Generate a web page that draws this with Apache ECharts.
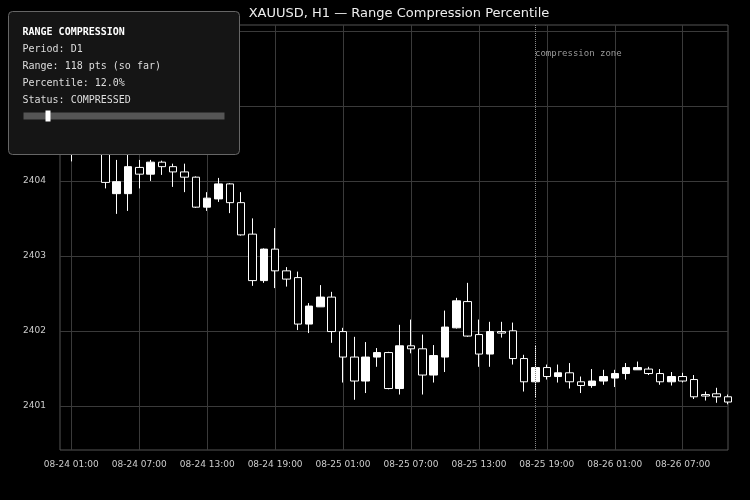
<!DOCTYPE html>
<html>
<head>
<meta charset="utf-8">
<script src="https://cdn.jsdelivr.net/npm/echarts@6/dist/echarts.min.js"></script>
<style>html,body{margin:0;padding:0;background:#000}</style>
</head>
<body>
<div id="main" style="width:750px;height:500px"></div>
<script>
// hourly candles from 08-24 00:00
var startDay = 24, startHour = 0, candleCount = 60;
var categories = [];
for (var i = 0; i < candleCount; i++) {
  var h = startHour + i;
  var d = startDay + Math.floor(h / 24);
  h = h % 24;
  categories.push('08-' + d + ' ' + (h < 10 ? '0' : '') + h + ':00');
}
var opens  = [2405.2,2405.5,2404.9,2405.1,2404.6,2403.83,2403.83,2404.18,2404.09,2404.25,2404.19,2404.12,2404.05,2403.65,2403.76,2403.96,2403.71,2403.29,2402.67,2403.09,2402.8,2402.71,2402.09,2402.32,2402.45,2401.99,2401.65,2401.33,2401.65,2401.71,2401.23,2401.8,2401.76,2401.41,2401.65,2402.04,2402.39,2401.95,2401.69,2401.99,2402.0,2401.63,2401.32,2401.51,2401.39,2401.44,2401.32,2401.27,2401.33,2401.37,2401.43,2401.48,2401.49,2401.43,2401.32,2401.39,2401.35,2401.15,2401.16,2401.12];
var closes = [2405.5,2404.9,2405.1,2404.6,2403.98,2403.99,2404.19,2404.09,2404.25,2404.19,2404.12,2404.05,2403.65,2403.77,2403.96,2403.71,2403.28,2402.67,2403.09,2402.8,2402.69,2402.09,2402.33,2402.45,2401.99,2401.65,2401.33,2401.65,2401.71,2401.23,2401.8,2401.76,2401.41,2401.67,2402.05,2402.4,2401.93,2401.69,2401.99,2401.97,2401.63,2401.32,2401.51,2401.39,2401.44,2401.32,2401.27,2401.33,2401.39,2401.43,2401.51,2401.51,2401.43,2401.32,2401.39,2401.33,2401.12,2401.13,2401.12,2401.05];
var lows   = [2405.0,2404.26,2404.7,2404.45,2403.9,2403.56,2403.6,2403.9,2404.0,2404.08,2403.92,2403.85,2403.64,2403.6,2403.72,2403.57,2403.27,2402.6,2402.64,2402.57,2402.59,2402.01,2401.97,2402.32,2401.84,2401.31,2401.08,2401.17,2401.52,2401.22,2401.15,2401.7,2401.15,2401.31,2401.45,2402.03,2401.92,2401.52,2401.52,2401.91,2401.55,2401.19,2401.11,2401.35,2401.31,2401.23,2401.17,2401.24,2401.28,2401.25,2401.35,2401.48,2401.41,2401.28,2401.27,2401.31,2401.09,2401.07,2401.04,2401.02];
var highs  = [2405.7,2405.6,2405.3,2405.2,2404.7,2404.28,2404.35,2404.28,2404.28,2404.27,2404.23,2404.23,2404.06,2403.85,2404.04,2403.97,2403.85,2403.5,2403.1,2403.37,2402.85,2402.79,2402.37,2402.61,2402.52,2402.04,2401.92,2401.85,2401.77,2401.72,2402.08,2402.15,2401.95,2401.81,2402.27,2402.44,2402.64,2402.15,2402.12,2402.12,2402.11,2401.68,2401.81,2401.55,2401.55,2401.57,2401.39,2401.49,2401.48,2401.48,2401.57,2401.59,2401.52,2401.49,2401.45,2401.44,2401.41,2401.19,2401.24,2401.15];
var yTicks = [2401, 2402, 2403, 2404, 2405, 2406];
var zoneIndex = 42;

var ohlc = opens.map(function (o, i) { return [o, closes[i], lows[i], highs[i]]; });
var labelEvery = function (idx) { return idx % 6 === 1; };

var myChart = echarts.init(document.getElementById('main'));
var option = {
  backgroundColor: '#000',
  animation: false,
  textStyle: { fontFamily: 'DejaVu Sans' },
  title: {
    text: 'XAUUSD, H1 — Range Compression Percentile',
    left: 394, textAlign: 'center', top: 2,
    textStyle: { color: '#eee', fontSize: 13, fontWeight: 'normal' }
  },
  grid: { left: 60, right: 22, top: 25, bottom: 50, show: true, borderColor: '#555', borderWidth: 1 },
  xAxis: {
    type: 'category',
    data: categories,
    boundaryGap: false,
    axisLine: { show: false },
    axisTick: { show: false },
    axisLabel: { color: '#ccc', fontSize: 9, interval: labelEvery, margin: 10 },
    splitLine: { show: true, interval: labelEvery, lineStyle: { color: '#3a3a3a' } }
  },
  yAxis: {
    type: 'value',
    min: 2400.41, max: 2406.08,
    axisLine: { show: false },
    axisTick: { show: false, customValues: yTicks },
    axisLabel: { color: '#ccc', fontSize: 9, customValues: yTicks, margin: 14, formatter: function (v) { return String(v); } },
    splitLine: { show: true, lineStyle: { color: '#3a3a3a' } }
  },
  series: [{
    type: 'candlestick',
    data: ohlc,
    barWidth: 8,
    clip: true,
    itemStyle: { color: '#fff', color0: '#000', borderColor: '#fff', borderColor0: '#fff', borderWidth: 1 },
    markLine: {
      symbol: 'none', silent: true,
      label: { show: false },
      lineStyle: { color: '#888', type: 'dotted', width: 1 },
      data: [{ xAxis: zoneIndex }]
    }
  }],
  graphic: [
    { type: 'text', left: 535, top: 49, z: 100, style: { text: 'compression zone', fill: '#999', font: '9px DejaVu Sans Mono' } },
    {
      type: 'group', left: 8, top: 11, z: 100,
      children: [
        { type: 'rect', z: 100, shape: { x: 0, y: 0, width: 231, height: 143, r: 4 }, style: { fill: '#151515', stroke: '#666', lineWidth: 1 } },
        { type: 'text', z: 101, x: 14, y: 16, style: { text: 'RANGE COMPRESSION', fill: '#fff', font: 'bold 10px DejaVu Sans Mono' } },
        { type: 'text', z: 101, x: 14, y: 33, style: { text: 'Period: D1', fill: '#ddd', font: '10px DejaVu Sans Mono' } },
        { type: 'text', z: 101, x: 14, y: 50, style: { text: 'Range: 118 pts (so far)', fill: '#ddd', font: '10px DejaVu Sans Mono' } },
        { type: 'text', z: 101, x: 14, y: 67, style: { text: 'Percentile: 12.0%', fill: '#ddd', font: '10px DejaVu Sans Mono' } },
        { type: 'text', z: 101, x: 14, y: 84, style: { text: 'Status: COMPRESSED', fill: '#ddd', font: '10px DejaVu Sans Mono' } },
        { type: 'rect', z: 101, shape: { x: 15, y: 101, width: 201, height: 7 }, style: { fill: '#555' } },
        { type: 'rect', z: 102, shape: { x: 37, y: 99, width: 5, height: 11 }, style: { fill: '#fff' } }
      ]
    }
  ]
};
option && myChart.setOption(option);
</script>
</body>
</html>
